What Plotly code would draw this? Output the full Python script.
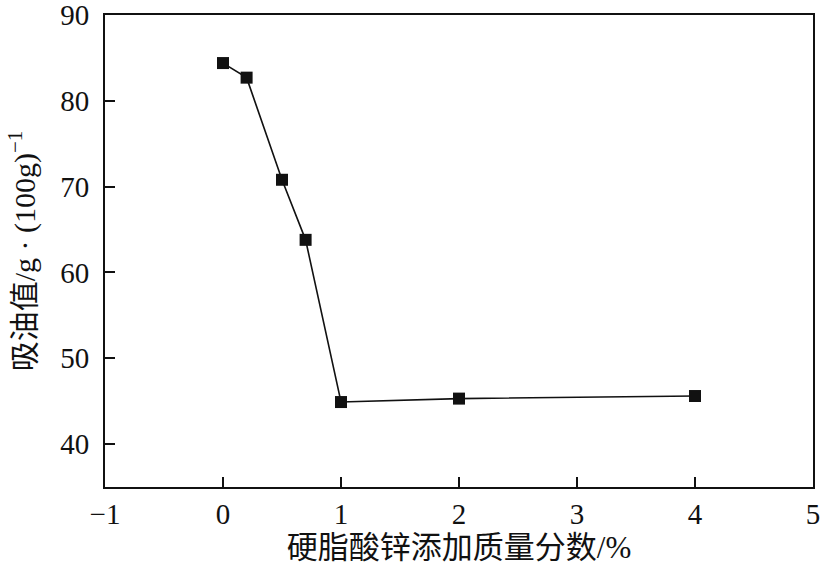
import plotly.graph_objects as go

x_vals = [0, 0.2, 0.5, 0.7, 1, 2, 4]
y_vals = [84.4, 82.7, 70.8, 63.8, 44.9, 45.3, 45.6]
x_ticks = [-1, 0, 1, 2, 3, 4, 5]
y_ticks = [40, 50, 60, 70, 80, 90]

font_family = "Liberation Serif, Times New Roman, Noto Sans CJK SC, serif"

fig = go.Figure()
fig.add_trace(go.Scatter(
    x=x_vals, y=y_vals, mode="lines+markers",
    line=dict(color="#111111", width=1.6),
    marker=dict(symbol="square", size=12, color="#111111"),
    showlegend=False,
))

axis_common = dict(
    showline=True, linecolor="#111111", linewidth=2, mirror=True,
    ticks="inside", ticklen=10, tickwidth=2, tickcolor="#111111",
    showgrid=False, zeroline=False, automargin=False,
    ticklabeloverflow="allow",
    tickfont=dict(family=font_family, size=29, color="#111111"),
)

fig.update_xaxes(
    range=[-1, 5], tickvals=x_ticks, ticktext=[("−1" if v == -1 else str(v)) for v in x_ticks],
    title=dict(text="硬脂酸锌添加质量分数/%", font=dict(family=font_family, size=31, color="#111111"), standoff=4),
    ticklabelstandoff=0,
    **axis_common,
)
fig.update_yaxes(
    range=[35, 90], tickvals=y_ticks,
    title=dict(text="吸油值/g · (100g)<sup>−1</sup>", font=dict(family=font_family, size=30, color="#111111"), standoff=16),
    ticklabelstandoff=8,
    **axis_common,
)

fig.update_layout(
    width=823, height=572,
    margin=dict(l=105, r=10, t=15, b=85),
    plot_bgcolor="white", paper_bgcolor="white",
)

fig.write_html(
    "out.html",
    config={"displayModeBar": False},
    post_script="document.body.style.margin='0';document.body.style.overflow='hidden';",
)
